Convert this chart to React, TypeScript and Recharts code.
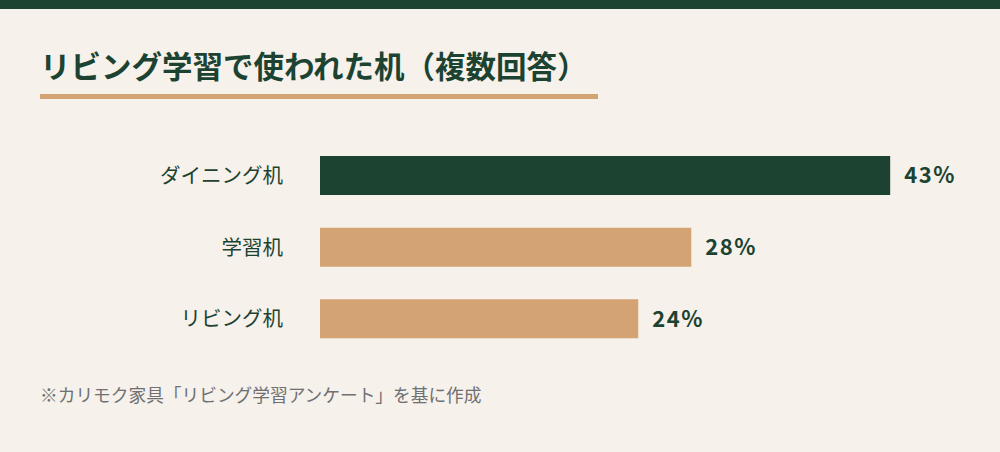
import React from 'react';
import { BarChart, Bar, XAxis, YAxis, Cell, LabelList } from 'recharts';

const categories = ['ダイニング机', '学習机', 'リビング机'];
const shares = [43, 28, 24];
const barColors = ['#1c4332', '#d4a373', '#d4a373'];

const data = categories.map((name, i) => ({ name, value: shares[i] }));

const GREEN = '#1c4332';
const TAN = '#d4a373';
const BG = '#f6f1ea';
const FONT = '"Noto Sans CJK JP", "Noto Sans", sans-serif';

export default function App() {
  return (
    <div
      style={{
        position: 'absolute',
        top: 0,
        left: 0,
        width: 1000,
        height: 452,
        background: BG,
        fontFamily: FONT,
        overflow: 'hidden',
      }}
    >
      <div style={{ position: 'absolute', top: 0, left: 0, width: 1000, height: 9, background: GREEN }} />
      <div
        style={{
          position: 'absolute',
          top: 50,
          left: 40,
          fontSize: 30.5,
          lineHeight: '30px',
          fontWeight: 700,
          color: GREEN,
          whiteSpace: 'nowrap',
        }}
      >
        リビング学習で使われた机（複数回答）
      </div>
      <div style={{ position: 'absolute', top: 94, left: 40, width: 558, height: 5, background: TAN }} />

      <div style={{ position: 'absolute', top: 140, left: 0 }}>
        <BarChart
          width={1000}
          height={215}
          data={data}
          layout="vertical"
          margin={{ top: 0, right: 17, bottom: 0, left: 0 }}
        >
          <XAxis type="number" domain={[0, 50]} hide />
          <YAxis
            type="category"
            dataKey="name"
            width={320}
            axisLine={false}
            tickLine={false}
            tickSize={0}
            tickMargin={37}
            tick={{ fill: GREEN, fontSize: 20.5, fontFamily: FONT }}
          />
          <Bar dataKey="value" barSize={39} isAnimationActive={false}>
            {data.map((d, i) => (
              <Cell key={d.name} fill={barColors[i]} />
            ))}
            <LabelList
              dataKey="value"
              position="right"
              offset={14}
              formatter={(v: number) => `${v}%`}
              style={{ fill: GREEN, fontSize: 22, fontWeight: 700, letterSpacing: 1.5, fontFamily: FONT }}
            />
          </Bar>
        </BarChart>
      </div>

      <div
        style={{
          position: 'absolute',
          top: 383,
          left: 40,
          fontSize: 17.7,
          lineHeight: '22px',
          color: '#6e7072',
          whiteSpace: 'nowrap',
        }}
      >
        ※カリモク家具「リビング学習アンケート」を基に作成
      </div>
    </div>
  );
}
